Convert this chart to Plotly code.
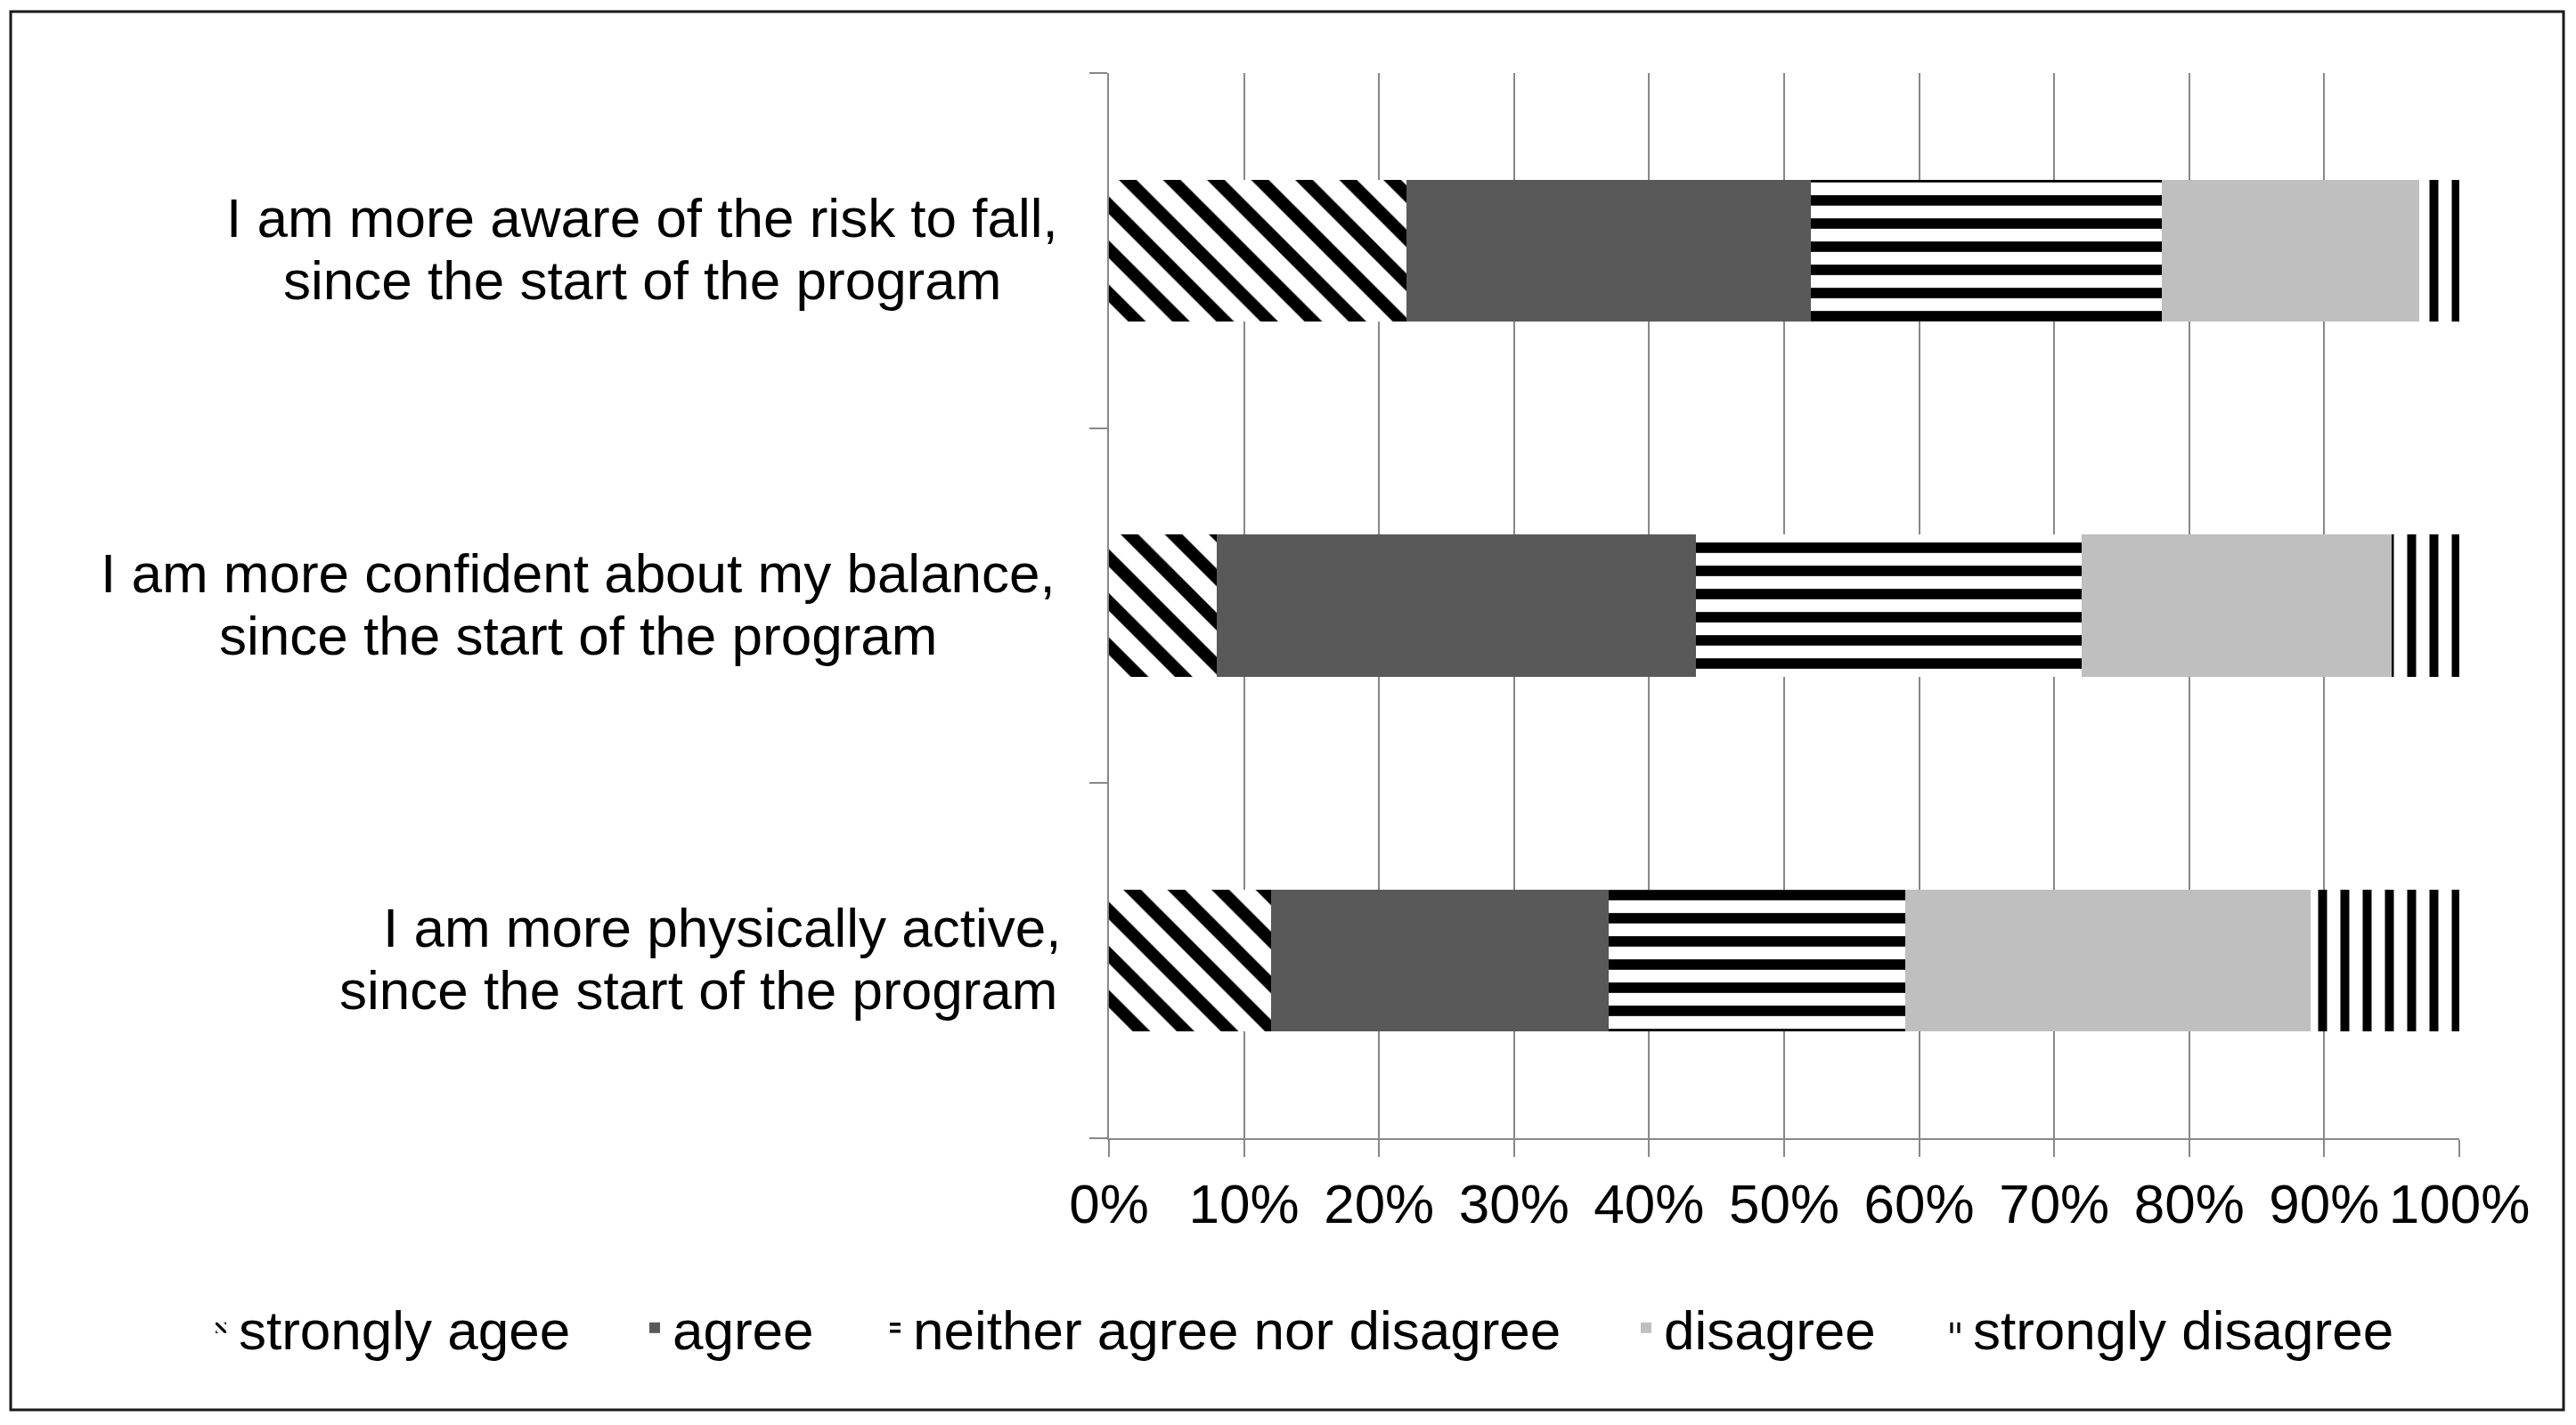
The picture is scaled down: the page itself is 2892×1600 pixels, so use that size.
import plotly.graph_objects as go

# ---------------- data ----------------
categories = [
    "I am more aware of the risk to fall, since the start of the program",
    "I am more confident about my balance, since the start of the program",
    "I am more physically active, since the start of the program",
]
label_line1 = [
    "I am more aware of the risk to fall,",
    "I am more confident about my balance,",
    "I am more physically active,",
]
label_line2 = [
    "since the start of the program",
    "since the start of the program",
    "since the start of the program",
]
series_names = ["strongly agee", "agree", "neither agree nor disagree",
                "disagree", "strongly disagree"]
strongly_agree = [22, 8, 12]
agree = [30, 35.5, 25]
neither = [26, 28.5, 22]
disagree = [19, 23, 30]
strongly_disagree = [3, 5, 11]
tick_values = [0, 10, 20, 30, 40, 50, 60, 70, 80, 90, 100]
tick_labels = ["0%", "10%", "20%", "30%", "40%", "50%", "60%", "70%", "80%", "90%", "100%"]

# ---------------- layout constants (page pixels) ----------------
OFF = 8                      # default body margin of the html page
W, H = 2892 - 16, 1600 - 16  # figure size
PLOT_L, PLOT_R, PLOT_T, PLOT_B = 1245, 2761, 82, 1278   # page coords of plot area
ML = PLOT_L - OFF
MT = PLOT_T - OFF
MR = W - (PLOT_R - OFF)
MB = H - (PLOT_B - OFF)
PW, PH = PLOT_R - PLOT_L, PLOT_B - PLOT_T
FONT = "Liberation Sans, Arial, sans-serif"
FS = 62
GRID = "#888888"


def px_to_paper_x(px):
    return (px - PLOT_L) / PW


def px_to_paper_y(py):
    return (PLOT_B - py) / PH


styles = [
    dict(color="white", pattern=dict(shape="\\", fgcolor="black", bgcolor="white",
                                     size=35, solidity=0.4, fillmode="replace")),
    dict(color="#595959"),
    dict(color="white", pattern=dict(shape="-", fgcolor="black", bgcolor="white",
                                     size=26, solidity=0.45, fillmode="replace")),
    dict(color="#bfbfbf"),
    dict(color="white", pattern=dict(shape="|", fgcolor="black", bgcolor="white",
                                     size=25, solidity=0.4, fillmode="replace")),
]
values = [strongly_agree, agree, neither, disagree, strongly_disagree]
legend_ids = ["legend", "legend2", "legend3", "legend4", "legend5"]
legend_text_start_px = [268, 755, 1025, 1868, 2215]

fig = go.Figure()
for name, vals, st, lid in zip(series_names, values, styles, legend_ids):
    marker = dict(st)
    marker["line"] = dict(width=0)
    fig.add_trace(go.Bar(
        y=categories, x=vals, name=name, orientation="h", marker=marker,
        legend=lid,
    ))

# category labels (two centred lines each)
label_centers_px = [(721, 721), (649, 649), (810, 784)]
annotations = []
for cat, l1, l2, (c1, c2) in zip(categories, label_line1, label_line2, label_centers_px):
    annotations.append(dict(xref="paper", yref="y", x=px_to_paper_x(c1), y=cat,
                            text=l1, showarrow=False, xanchor="center", yanchor="middle",
                            yshift=37, font=dict(family=FONT, size=FS, color="black")))
    annotations.append(dict(xref="paper", yref="y", x=px_to_paper_x(c2), y=cat,
                            text=l2, showarrow=False, xanchor="center", yanchor="middle",
                            yshift=-33, font=dict(family=FONT, size=FS, color="black")))

# outer frame
frame = dict(type="rect", xref="paper", yref="paper",
             x0=px_to_paper_x(12), x1=px_to_paper_x(2878),
             y0=px_to_paper_y(1583), y1=px_to_paper_y(13),
             line=dict(color="#1a1a1a", width=3), fillcolor="rgba(0,0,0,0)",
             layer="above")

legend_layouts = {}
for lid, tx in zip(legend_ids, legend_text_start_px):
    legend_layouts[lid] = dict(
        orientation="h", x=px_to_paper_x(tx - 40), xanchor="left",
        y=px_to_paper_y(1491), yanchor="middle",
        font=dict(family=FONT, size=FS, color="black"),
        bgcolor="rgba(0,0,0,0)", borderwidth=0,
    )

fig.update_layout(
    width=W, height=H,
    margin=dict(l=ML, r=MR, t=MT, b=MB, pad=0, autoexpand=False),
    barmode="stack",
    bargap=0.6,
    paper_bgcolor="white",
    plot_bgcolor="white",
    font=dict(family=FONT, size=FS, color="black"),
    showlegend=True,
    xaxis=dict(range=[0, 100], tickmode="array", tickvals=tick_values, ticktext=tick_labels,
               showgrid=True, gridcolor=GRID, gridwidth=2,
               showline=True, linecolor=GRID, linewidth=2,
               ticks="outside", ticklen=19, tickwidth=2, tickcolor=GRID,
               zeroline=False, tickfont=dict(family=FONT, size=FS, color="black"),
               fixedrange=True),
    yaxis=dict(type="category", categoryorder="array",
               categoryarray=list(reversed(categories)),
               showline=True, linecolor=GRID, linewidth=2,
               ticks="outside", tickson="boundaries", ticklen=20, tickwidth=2,
               tickcolor=GRID, showticklabels=False, showgrid=False, zeroline=False,
               fixedrange=True),
    annotations=annotations,
    shapes=[frame],
    **legend_layouts,
)

fig.write_html("out.html")
